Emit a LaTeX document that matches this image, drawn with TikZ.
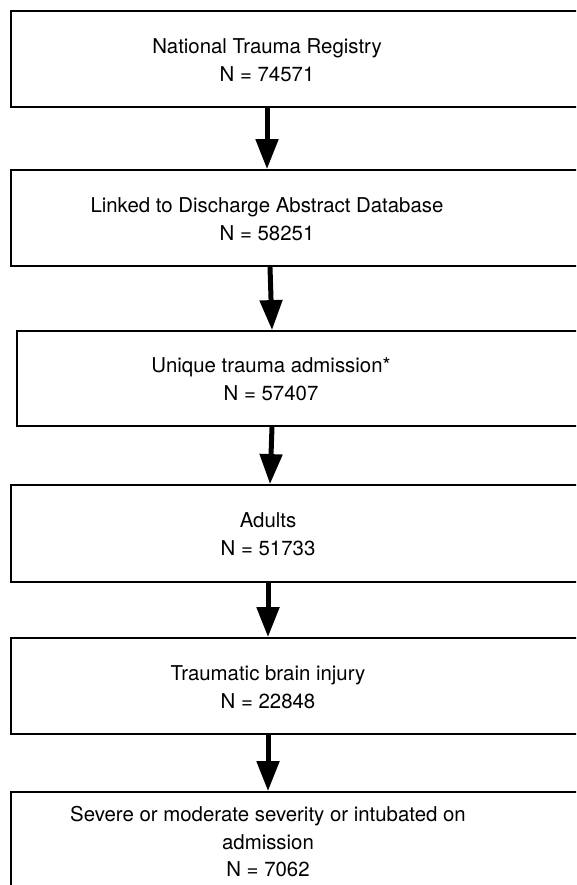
\documentclass[tikz,border=0pt]{standalone}
\usepackage{fontspec}
\setmainfont{TeX Gyre Heros}
\usetikzlibrary{arrows.meta,positioning,calc}

\begin{document}
\begin{tikzpicture}[
  x=1pt, y=-1pt,
  font=\fontsize{20.4}{27.5}\selectfont,
  box/.style={draw=black, line width=1.8pt, fill=white, minimum width=630pt,
              minimum height=96pt, inner sep=0pt},
  lbl/.style={align=center, inner sep=0pt},
  arr/.style={-{Triangle[width=22pt,length=30pt]}, draw=black, line width=5pt,
              line cap=round, shorten <=1pt}
]
\useasboundingbox (0,0) rectangle (576,885);
\clip (0,0) rectangle (576,885);
\fill[white] (0,0) rectangle (576,885);

\node[box] (reg)  at (326,59)  {};
\node[box] (dad)  at (326,218) {};
\node[box, minimum height=95pt] (uniq) at (332,378.5) {};
\node[box, minimum height=97pt] (adlt) at (326,533.5) {};
\node[box] (tbi)  at (326,686) {};
\node[box, minimum height=110pt] (sev) at (326,847) {};

\node[lbl] (treg)  at (267,60)  {National Trauma Registry\\N = 74571};
\node[lbl] (tdad)  at (267,219) {Linked to Discharge Abstract Database\\N = 58251};
\node[lbl] (tuniq) at (271,379) {Unique trauma admission*\\N = 57407};
\node[lbl] (tadlt) at (268,534) {Adults\\N = 51733};
\node[lbl] (ttbi)  at (268,687) {Traumatic brain injury\\N = 22848};
\node[lbl] (tsev)  at (268,842) {Severe or moderate severity or intubated on\\admission\\N = 7062};

\draw[arr] (reg.south -| treg) -- (dad.north -| treg);
\draw[arr] ([xshift=-1pt]dad.south -| tuniq) -- ([xshift=1pt]uniq.north -| tuniq);
\draw[arr] ([xshift=1pt]uniq.south -| tuniq) -- ([xshift=-1pt]adlt.north -| tuniq);
\draw[arr] (adlt.south -| tadlt) -- (tbi.north -| tadlt);
\draw[arr] (tbi.south -| ttbi) -- (sev.north -| ttbi);
\end{tikzpicture}
\end{document}
